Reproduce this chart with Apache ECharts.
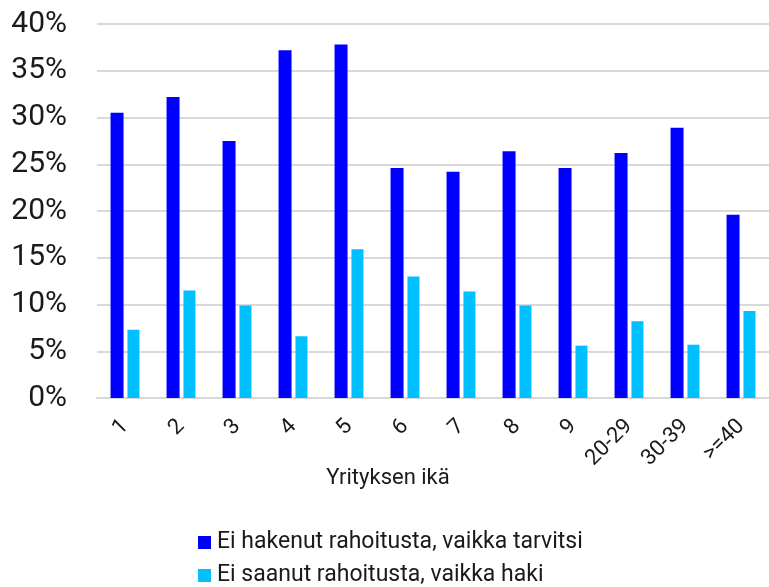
<!DOCTYPE html>
<html>
<head>
<meta charset="utf-8">
<script src="https://cdn.jsdelivr.net/npm/echarts@6/dist/echarts.min.js"></script>
<style>
  html, body { margin: 0; padding: 0; background: #fff; }
  #chart { width: 769px; height: 587px; }
</style>
</head>
<body>
<div id="chart"></div>
<script>
const ikaLuokat = ['1', '2', '3', '4', '5', '6', '7', '8', '9', '20-29', '30-39', '>=40'];
const eiHakenut = [30.5, 32.2, 27.5, 37.2, 37.8, 24.6, 24.2, 26.4, 24.6, 26.2, 28.9, 19.6];
const eiSaanut = [7.3, 11.5, 9.9, 6.6, 15.9, 13.0, 11.4, 9.9, 5.6, 8.2, 5.7, 9.3];
const sarjaNimet = ['Ei hakenut rahoitusta, vaikka tarvitsi', 'Ei saanut rahoitusta, vaikka haki'];
const yTicks = [0, 5, 10, 15, 20, 25, 30, 35, 40];

const fontti = 'Roboto, "Liberation Sans", sans-serif';
let chart = echarts.init(document.getElementById('chart'));
let options = {
    backgroundColor: '#fff',
    textStyle: {fontFamily: fontti},
    grid: {left: 97, right: 0, top: 24, bottom: 189, containLabel: false},
    legend: {
        orient: 'vertical',
        left: 193,
        top: 526,
        height: 100,
        itemWidth: 13,
        itemHeight: 13,
        itemGap: 10,
        icon: 'rect',
        textStyle: {fontSize: 23, color: '#1a1a1a', fontFamily: fontti, padding: [0, 0, 0, 1]},
        data: sarjaNimet
    },
    xAxis: {
        type: 'category',
        data: ikaLuokat,
        name: 'Yrityksen ikä',
        nameLocation: 'middle',
        nameGap: 69,
        nameMoveOverlap: false,
        nameTextStyle: {fontSize: 22, color: '#1a1a1a', fontFamily: fontti, padding: [0, 90, 0, 0]},
        axisLine: {lineStyle: {color: '#d9d9d9', width: 2}},
        axisTick: {show: false},
        axisLabel: {rotate: 45, fontSize: 22, color: '#1a1a1a', margin: 25, interval: 0}
    },
    yAxis: {
        type: 'value',
        min: yTicks[0],
        max: yTicks[yTicks.length - 1],
        interval: 5,
        axisLine: {show: false},
        axisTick: {show: false},
        splitLine: {lineStyle: {color: '#d9d9d9', width: 2}},
        axisLabel: {fontSize: 30, color: '#1a1a1a', margin: 30, formatter: v => v + '%'}
    },
    series: [
        {
            name: sarjaNimet[0],
            type: 'bar',
            data: eiHakenut,
            barWidth: 13,
            barGap: '30%',
            itemStyle: {color: '#0000ff'}
        },
        {
            name: sarjaNimet[1],
            type: 'bar',
            data: eiSaanut,
            barWidth: 12,
            itemStyle: {color: '#00c0ff'}
        }
    ]
};
chart.setOption(options);
</script>
</body>
</html>
